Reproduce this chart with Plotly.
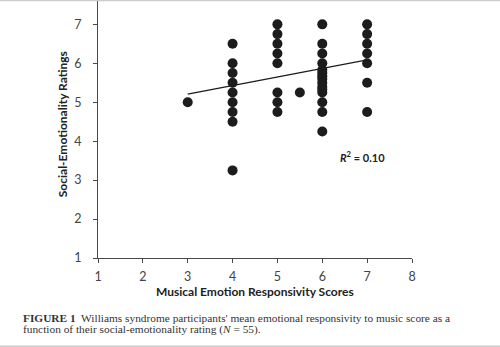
import plotly.graph_objects as go

# Musical emotion responsivity score (x) and social-emotionality rating (y), one entry per participant
music_scores = (
    [3]
    + [4] * 9
    + [5] * 8
    + [5.5]
    + [6] * 15
    + [7] * 7
)
social_ratings = (
    [5.0]
    + [6.5, 6.0, 5.75, 5.5, 5.25, 5.0, 4.75, 4.5, 3.25]
    + [7.0, 6.75, 6.5, 6.25, 6.0, 5.25, 5.0, 4.75]
    + [5.25]
    + [7.0, 6.5, 6.25, 6.0, 5.83, 5.75, 5.67, 5.6, 5.5, 5.4, 5.33, 5.25, 5.0, 4.75, 4.25]
    + [7.0, 6.75, 6.5, 6.25, 6.0, 5.5, 4.75]
)

# Linear trendline (least squares) and its fit statistic
trend_slope = 0.22
trend_intercept = 4.55
trend_x = [3, 7]
r_squared = 0.10

x_ticks = [1, 2, 3, 4, 5, 6, 7, 8]
y_ticks = [1, 2, 3, 4, 5, 6, 7]

SANS = "Lato, 'Open Sans', sans-serif"
SERIF = "'Liberation Serif', 'DejaVu Serif', serif"
AXIS_COLOR = "#4a4a4a"

fig = go.Figure()

fig.add_trace(go.Scatter(
    x=music_scores, y=social_ratings, mode="markers",
    marker=dict(size=10, color="#1c1c1c", line=dict(width=0)),
    showlegend=False, hoverinfo="x+y",
))

fig.add_trace(go.Scatter(
    x=trend_x, y=[trend_intercept + trend_slope * v for v in trend_x],
    mode="lines", line=dict(color="#1c1c1c", width=1.3),
    showlegend=False, hoverinfo="skip",
))

fig.update_layout(
    width=500, height=347,
    margin=dict(l=98, r=88, t=1, b=89),
    paper_bgcolor="white", plot_bgcolor="white",
    font=dict(family=SANS, color="#333333", size=11),
    xaxis=dict(
        range=[1, 8], tickvals=x_ticks, showgrid=False, zeroline=False,
        showline=True, linecolor=AXIS_COLOR, linewidth=1,
        ticks="outside", ticklen=4, tickcolor=AXIS_COLOR,
        ticklabelstandoff=3,
        tickfont=dict(size=12.5, color="#444444", family=SANS),
    ),
    yaxis=dict(
        range=[1, 7.6], tickvals=y_ticks, showgrid=False, zeroline=False,
        showline=True, linecolor=AXIS_COLOR, linewidth=1,
        ticks="outside", ticklen=4, tickcolor=AXIS_COLOR,
        ticklabelstandoff=9,
        tickfont=dict(size=12.5, color="#444444", family=SANS),
    ),
)

# Axis titles
fig.add_annotation(
    text="<b>Musical Emotion Responsivity Scores</b>",
    xref="paper", yref="paper", x=0.5, y=-0.13, yanchor="middle",
    showarrow=False, font=dict(size=12, color="#222222", family=SANS),
)
fig.add_annotation(
    text="<b>Social-Emotionality Ratings</b>",
    xref="paper", yref="paper", x=-0.115, y=0.52, textangle=-90,
    xanchor="center", yanchor="middle",
    showarrow=False, font=dict(size=12, color="#222222", family=SANS),
)

# Fit statistic label
fig.add_annotation(
    text=f"<b><i>R</i><sup>2</sup> = {r_squared:.2f}</b>",
    x=6.9, y=3.6, xref="x", yref="y", showarrow=False,
    font=dict(size=11, color="#222222", family=SANS),
)

# Caption below the chart
fig.add_annotation(
    text="<b>FIGURE 1</b>  Williams syndrome participants' mean emotional responsivity to music score as a",
    xref="paper", yref="paper", x=-0.244, y=-0.232, xanchor="left", yanchor="middle",
    showarrow=False, font=dict(size=11.35, color="#333333", family=SERIF),
)
fig.add_annotation(
    text="function of their social-emotionality rating (<i>N</i> = 55).",
    xref="paper", yref="paper", x=-0.244, y=-0.28, xanchor="left", yanchor="middle",
    showarrow=False, font=dict(size=11.35, color="#333333", family=SERIF),
)

# Thin rules framing the figure at the top and bottom
for yy in (1.002, -0.343):
    fig.add_shape(
        type="line", xref="paper", yref="paper",
        x0=-0.32, x1=1.29, y0=yy, y1=yy,
        line=dict(color="#cccccc", width=1.5),
    )

fig.write_html("out.html")
